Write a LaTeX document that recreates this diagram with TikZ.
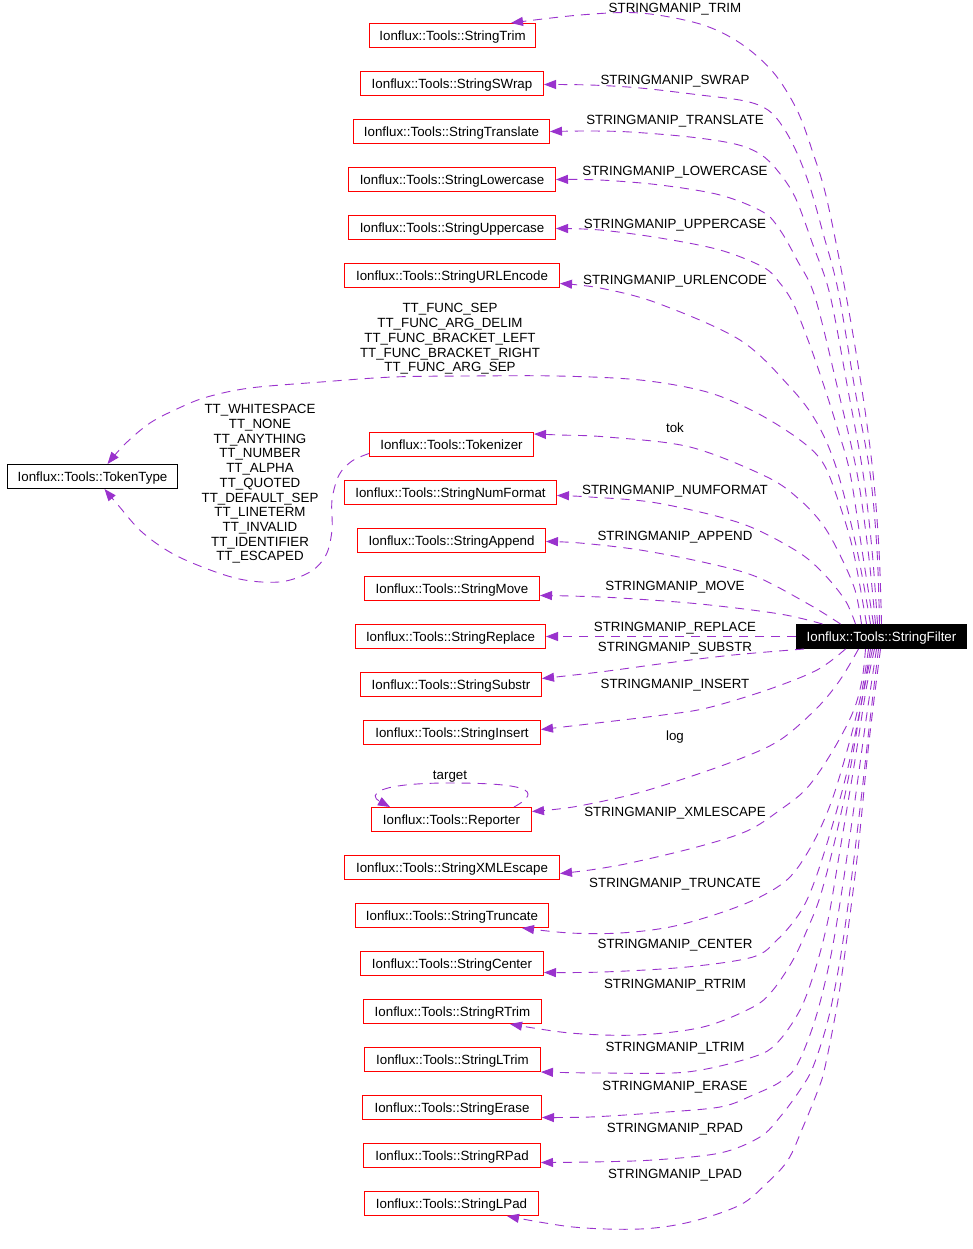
\documentclass[tikz,border=0pt]{standalone}
\usepackage{fontspec}
\setmainfont{Liberation Sans}
\usetikzlibrary{arrows.meta,calc}
\definecolor{edgecol}{HTML}{9A32CD}
\begin{document}
\begin{tikzpicture}[x=1pt,y=-1pt,
  every node/.style={font=\fontsize{13.33}{14.7}\selectfont},
  cls/.style={draw=red, line width=1pt, inner xsep=0pt, inner ysep=0pt, minimum height=24pt, text height=9.5pt, text depth=0pt},
  bw/.style={minimum width=#1},
  rootcls/.style={cls, draw=black, fill=black, text=white},
  extcls/.style={cls, draw=black},
  lbl/.style={inner sep=0pt, text height=9.5pt, text depth=0pt},
  mlbl/.style={inner sep=0pt, align=center},
  edge/.style={draw=edgecol, line width=0.9pt, dash pattern=on 9pt off 7pt, -{Triangle[length=12pt,width=9pt]}},
  sm/.style={smooth, tension=0.55}]
\fill[white] (0,0) rectangle (973,1249);
\useasboundingbox (0,0) rectangle (973,1249);

% nodes
\node[cls,bw=166pt] (trim) at (452.5,35.5) {Ionflux::Tools::StringTrim};
\node[cls,bw=183pt] (swrap) at (452,83.5) {Ionflux::Tools::StringSWrap};
\node[cls,bw=196pt] (translate) at (451.5,131.5) {Ionflux::Tools::StringTranslate};
\node[cls,bw=207pt] (lower) at (452,179.5) {Ionflux::Tools::StringLowercase};
\node[cls,bw=207pt] (upper) at (452,227.5) {Ionflux::Tools::StringUppercase};
\node[cls,bw=215pt] (url) at (452,275.5) {Ionflux::Tools::StringURLEncode};
\node[extcls,bw=170pt] (tokentype) at (92.5,476.5) {Ionflux::Tools::TokenType};
\node[cls,bw=164pt] (tokenizer) at (451.5,444.5) {Ionflux::Tools::Tokenizer};
\node[cls,bw=212pt] (numformat) at (450.5,492.5) {Ionflux::Tools::StringNumFormat};
\node[cls,bw=188pt] (append) at (451.5,540.5) {Ionflux::Tools::StringAppend};
\node[cls,bw=175pt] (move) at (452,588.5) {Ionflux::Tools::StringMove};
\node[cls,bw=190pt] (replace) at (450.5,636.5) {Ionflux::Tools::StringReplace};
\node[cls,bw=181pt] (substr) at (451,684.5) {Ionflux::Tools::StringSubstr};
\node[cls,bw=177pt] (insert) at (452,732.5) {Ionflux::Tools::StringInsert};
\node[cls,bw=160pt] (reporter) at (451.5,819.5) {Ionflux::Tools::Reporter};
\node[cls,bw=215pt] (xml) at (452,867.5) {Ionflux::Tools::StringXMLEscape};
\node[cls,bw=193pt] (truncate) at (452,915.5) {Ionflux::Tools::StringTruncate};
\node[cls,bw=183pt] (center) at (452,963.5) {Ionflux::Tools::StringCenter};
\node[cls,bw=178pt] (rtrim) at (452.5,1011.5) {Ionflux::Tools::StringRTrim};
\node[cls,bw=176pt] (ltrim) at (452.5,1059.5) {Ionflux::Tools::StringLTrim};
\node[cls,bw=179pt] (erase) at (452,1107.5) {Ionflux::Tools::StringErase};
\node[cls,bw=177pt] (rpad) at (452,1155.5) {Ionflux::Tools::StringRPad};
\node[cls,bw=174pt] (lpad) at (451.5,1203.5) {Ionflux::Tools::StringLPad};
\node[rootcls,bw=170pt] (sf) at (881.5,636.5) {Ionflux::Tools::StringFilter};

% upper edges
\draw[edge] plot[sm] coordinates {(sf.north) (879,550) (873,473) (862,390) (846,295) (827,200) (813,153) (797,110) (773,72) (740,43) (700,24) (640,13) (580,15) ($(trim.north east)+(-25,0)$)};
\draw[edge] plot[sm] coordinates {($(sf.north)+(-2,0)$) (877,550) (870,473) (855,390) (838,290) (823,233) (810,187) (797,153) (783,127) (768,110) (745,101) (700,95) (640,88) (590,85) ($(swrap.east)+(0,1)$)};
\draw[edge] plot[sm] coordinates {($(sf.north)+(-4,0)$) (872,550) (863,473) (848,390) (830,295) (813,245) (795,197) (777,170) (760,154) (735,144) (690,137) (630,132) (590,131) (translate.east)};
\draw[edge] plot[sm] coordinates {($(sf.north)+(-6,0)$) (868,550) (857,473) (838,390) (815,297) (797,260) (780,230) (763,212) (720,195) (660,185) (600,180) (lower.east)};
\draw[edge] plot[sm] coordinates {($(sf.north)+(-8,0)$) (862,550) (850,473) (837,427) (823,383) (808,340) (793,303) (779,282) (763,267) (720,250) (660,238) (600,230) ($(upper.east)+(0,1)$)};
\draw[edge] plot[sm] coordinates {($(sf.north)+(-11,0)$) (857,550) (837,470) (817,423) (790,387) (740,340) (657,303) (600,288) ($(url.east)+(0,8)$)};
\draw[edge] plot[sm] coordinates {($(sf.north)+(-15,0)$) (853,550) (838,500) (823,463) (800,440) (757,413) (707,392) (640,380) (557,376) (470,376) (393,377) (321,382) (250,388) (207,397) (179,408) (150,423) (125,444) ($(tokentype.north)+(15,0)$)};
\draw[edge] plot[sm] coordinates {($(sf.north)+(-20,0)$) (855,590) (840,555) (823,525) (800,500) (767,477) (690,447) (607,437) (560,435) ($(tokenizer.north east)+(0,2)$)};
\draw[edge] plot[sm] coordinates {($(sf.north)+(-26,0)$) (845,600) (822,572) (795,550) (740,523) (657,503) (590,497) ($(numformat.east)+(0,3)$)};
\draw[edge] plot[sm] coordinates {($(sf.north)+(-41,0)$) (810,605) (757,577) (707,563) (640,550) (580,543) ($(append.east)+(0,1)$)};
\draw[edge] plot[sm] coordinates {($(sf.north)+(-59,0)$) (780,614) (700,604) (620,598) (570,596) ($(move.east)+(0,7)$)};
\draw[edge] (sf.west) -- (replace.east);

% lower edges
\draw[edge] plot[sm] coordinates {($(sf.south west)+(8,0)$) (733,655) (667,663) (600,672) ($(substr.east)+(0,-6)$)};
\draw[edge] plot[sm] coordinates {($(sf.south)+(-36,0)$) (817,670) (767,690) (707,708) (663,715) (597,723) ($(insert.east)+(0,-3)$)};
\draw[edge] plot[sm] coordinates {($(sf.south)+(-23,0)$) (840,680) (817,708) (780,740) (737,760) (680,780) (630,795) (573,807) ($(reporter.east)+(0,-8)$)};
\draw[edge] plot[sm] coordinates {($(sf.south)+(-16,0)$) (862,680) (853,712) (832,752) (807,788) (780,810) (747,831) (697,847) (630,863) (590,870) ($(xml.east)+(0,6)$)};
\draw[edge] plot[sm] coordinates {($(sf.south)+(-13,0)$) (862,690) (850,740) (832,800) (813,843) (790,877) (760,897) (720,913) (670,927) (620,933) (570,933) ($(truncate.south east)+(-27,0)$)};
\draw[edge] plot[sm] coordinates {($(sf.south)+(-11,0)$) (860,710) (845,780) (825,850) (810,893) (797,917) (777,940) (753,957) (687,967) (603,972) ($(center.east)+(0,9)$)};
\draw[edge] plot[sm] coordinates {($(sf.south)+(-9,0)$) (862,700) (850,770) (835,840) (820,897) (807,930) (793,960) (773,990) (753,1007) (703,1027) (637,1035) (570,1033) ($(rtrim.south east)+(-32,0)$)};
\draw[edge] plot[sm] coordinates {($(sf.south)+(-7,0)$) (866,690) (855,760) (840,850) (828,920) (815,970) (800,1010) (777,1043) (753,1057) (687,1072) (603,1073) (ltrim.south east)};
\draw[edge] plot[sm] coordinates {($(sf.south)+(-5,0)$) (866,720) (855,800) (842,890) (830,960) (815,1020) (797,1065) (780,1082) (753,1095) (720,1107) (653,1113) (590,1117) ($(erase.east)+(0,10)$)};
\draw[edge] plot[sm] coordinates {($(sf.south)+(-3,0)$) (870,720) (861,800) (850,890) (840,960) (828,1020) (813,1067) (800,1090) (780,1117) (760,1137) (720,1153) (653,1160) (590,1162) ($(rpad.east)+(0,7)$)};
\draw[edge] plot[sm] coordinates {($(sf.south)+(-1,0)$) (874,700) (867,760) (858,850) (848,930) (838,1000) (825,1067) (818,1090) (803,1127) (788,1160) (767,1183) (740,1205) (690,1222) (640,1229) (573,1227) ($(lpad.south east)+(-32,0)$)};

% tokenizer -> tokentype
\draw[edge] plot[sm] coordinates {($(tokenizer.west)+(0,9)$) (352,461) (339,475) (332,500) (332,530) (326,555) (310,572) (279,582) (235,578) (179,557) (143,533) (118,505) ($(tokentype.south)+(12,0)$)};

% reporter self loop
\draw[edge] ($(reporter.north east)+(-18,0)$) .. controls (545,790) and (525,783) .. (450,783) .. controls (375,783) and (368,795) .. ($(reporter.north west)+(19,0)$);

% labels
\node[lbl] (l1) at (675,8) {STRINGMANIP\_TRIM};
\node[lbl] (l2) at (675,80) {STRINGMANIP\_SWRAP};
\node[lbl] (l3) at (675,120) {STRINGMANIP\_TRANSLATE};
\node[lbl] (l4) at (675,171) {STRINGMANIP\_LOWERCASE};
\node[lbl] (l5) at (675,224) {STRINGMANIP\_UPPERCASE};
\node[lbl] (l6) at (675,280) {STRINGMANIP\_URLENCODE};
\node[mlbl] (l7) at (450,339) {TT\_FUNC\_SEP\\TT\_FUNC\_ARG\_DELIM\\TT\_FUNC\_BRACKET\_LEFT\\TT\_FUNC\_BRACKET\_RIGHT\\TT\_FUNC\_ARG\_SEP};
\node[mlbl] (l8) at (260,484) {TT\_WHITESPACE\\TT\_NONE\\TT\_ANYTHING\\TT\_NUMBER\\TT\_ALPHA\\TT\_QUOTED\\TT\_DEFAULT\_SEP\\TT\_LINETERM\\TT\_INVALID\\TT\_IDENTIFIER\\TT\_ESCAPED};
\node[lbl] (l9) at (675,428) {tok};
\node[lbl] (l10) at (675,490) {STRINGMANIP\_NUMFORMAT};
\node[lbl] (l11) at (675,536) {STRINGMANIP\_APPEND};
\node[lbl] (l12) at (675,586) {STRINGMANIP\_MOVE};
\node[lbl] (l13) at (675,627) {STRINGMANIP\_REPLACE};
\node[lbl] (l14) at (675,647) {STRINGMANIP\_SUBSTR};
\node[lbl] (l15) at (675,684) {STRINGMANIP\_INSERT};
\node[lbl] (l16) at (675,736) {log};
\node[lbl] (l17) at (450,775) {target};
\node[lbl] (l18) at (675,812) {STRINGMANIP\_XMLESCAPE};
\node[lbl] (l19) at (675,883) {STRINGMANIP\_TRUNCATE};
\node[lbl] (l20) at (675,944) {STRINGMANIP\_CENTER};
\node[lbl] (l21) at (675,984) {STRINGMANIP\_RTRIM};
\node[lbl] (l22) at (675,1047) {STRINGMANIP\_LTRIM};
\node[lbl] (l23) at (675,1086) {STRINGMANIP\_ERASE};
\node[lbl] (l24) at (675,1128) {STRINGMANIP\_RPAD};
\node[lbl] (l25) at (675,1174) {STRINGMANIP\_LPAD};
\end{tikzpicture}
\end{document}
